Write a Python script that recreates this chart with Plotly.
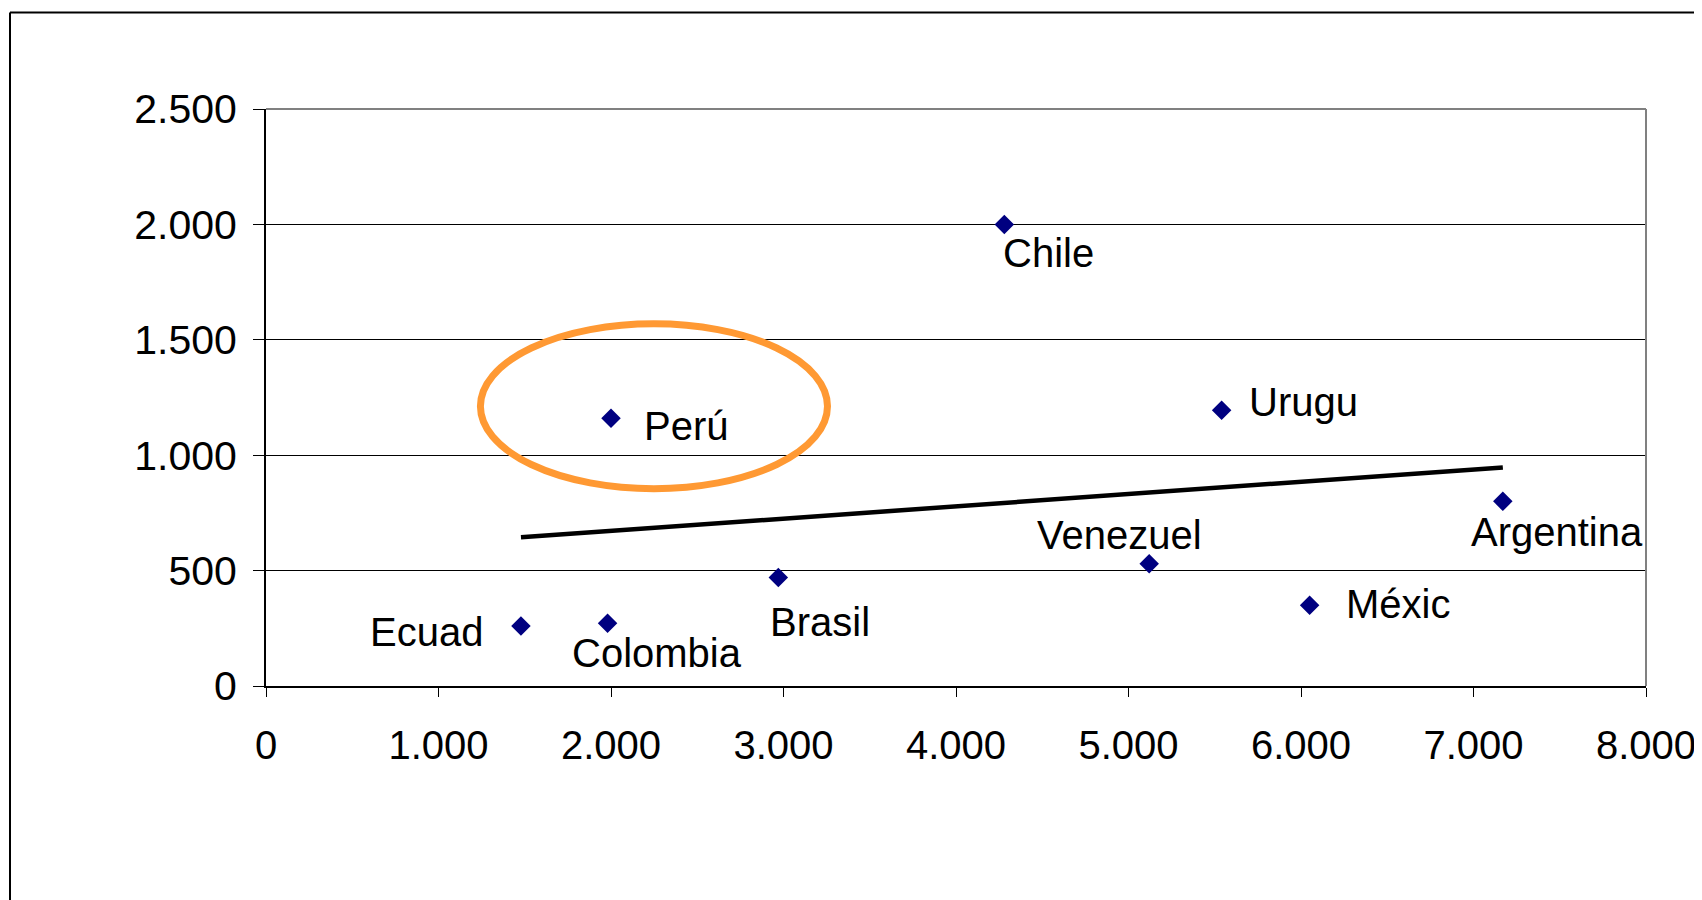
import numpy as np
import plotly.graph_objects as go

# ---- data ----
countries = ["Ecuad", "Colombia", "Perú", "Brasil", "Chile", "Venezuel", "Urugu", "Méxic", "Argentina"]
x_vals = [1478, 1980, 2000, 2970, 4280, 5120, 5540, 6050, 7170]
y_vals = [260, 272, 1160, 470, 2000, 530, 1195, 350, 800]

x_ticks = [0, 1000, 2000, 3000, 4000, 5000, 6000, 7000, 8000]
y_ticks = [0, 500, 1000, 1500, 2000, 2500]

# label offsets in pixels (dx right, dy down) -- styling only
label_dx = [-94, 49, 75, 42, 44, -30, 82, 88, 54]
label_dy = [6, 30, 8, 44, 29, -29, -8, -1, 31]

# highlight ellipse around Perú (data units)
ellipse_x = [1243, 3255]
ellipse_y = [855, 1569]

FONT = "Liberation Sans, Arial, sans-serif"
OFF = 8  # page body margin

fig = go.Figure()

# trend line (linear fit)
slope, intercept = np.polyfit(x_vals, y_vals, 1)
tx = [min(x_vals), max(x_vals)]
ty = [slope * v + intercept for v in tx]
fig.add_trace(go.Scatter(x=tx, y=ty, mode="lines",
                         line=dict(color="black", width=4.5),
                         hoverinfo="skip", showlegend=False))

fig.add_trace(go.Scatter(x=x_vals, y=y_vals, mode="markers",
                         marker=dict(symbol="diamond", size=15, color="#000080"),
                         text=countries, showlegend=False))

for name, xv, yv, dx, dy in zip(countries, x_vals, y_vals, label_dx, label_dy):
    fig.add_annotation(x=xv, y=yv, xref="x", yref="y", text=name, showarrow=False,
                       xanchor="center", yanchor="middle", xshift=dx, yshift=-dy,
                       font=dict(family=FONT, size=40, color="black"))

# ellipse
fig.add_shape(type="circle", xref="x", yref="y",
              x0=ellipse_x[0], x1=ellipse_x[1], y0=ellipse_y[0], y1=ellipse_y[1],
              line=dict(color="#FF9933", width=7), layer="above")

# plot-area top/right border (grey)
fig.add_shape(type="line", xref="paper", yref="paper", x0=0, x1=1, y0=1, y1=1,
              line=dict(color="#808080", width=2), layer="above")
fig.add_shape(type="line", xref="paper", yref="paper", x0=1, x1=1, y0=0, y1=1,
              line=dict(color="#808080", width=2), layer="above")

# outer chart border (left and top visible)
L, T = 266 - OFF, 108.5 - OFF
W, H = 1380, 577.5
bx = (10 - 266) / W
by = (686 - 12) / H
fig.add_shape(type="line", xref="paper", yref="paper", x0=bx, x1=bx, y0=-1, y1=by,
              line=dict(color="black", width=2))
fig.add_shape(type="line", xref="paper", yref="paper", x0=bx, x1=2, y0=by, y1=by,
              line=dict(color="black", width=2))

FW, FH = 1702 - OFF, 900 - OFF
fig.update_layout(
    width=FW, height=FH,
    margin=dict(l=L, r=FW - L - W, t=T, b=FH - T - H, pad=0),
    paper_bgcolor="white", plot_bgcolor="white",
    separators=",.",
    font=dict(family=FONT, size=40, color="black"),
    showlegend=False,
)
fig.update_xaxes(range=[0, 8000], tickvals=x_ticks, tickformat=",d", automargin=False,
                 showgrid=False, zeroline=False, showline=True, linecolor="black", linewidth=2,
                 ticks="outside", ticklen=9, tickwidth=1, tickcolor="black",
                 tickfont=dict(family=FONT, size=40, color="black"), ticklabelstandoff=14)
fig.update_yaxes(range=[0, 2500], tickvals=y_ticks, tickformat=",d", automargin=False,
                 showgrid=True, gridcolor="black", gridwidth=1,
                 zeroline=False, showline=True, linecolor="black", linewidth=2,
                 ticks="outside", ticklen=11, tickwidth=1, tickcolor="black",
                 tickfont=dict(family=FONT, size=41, color="black"), ticklabelstandoff=8)

fig.write_html("out.html")
